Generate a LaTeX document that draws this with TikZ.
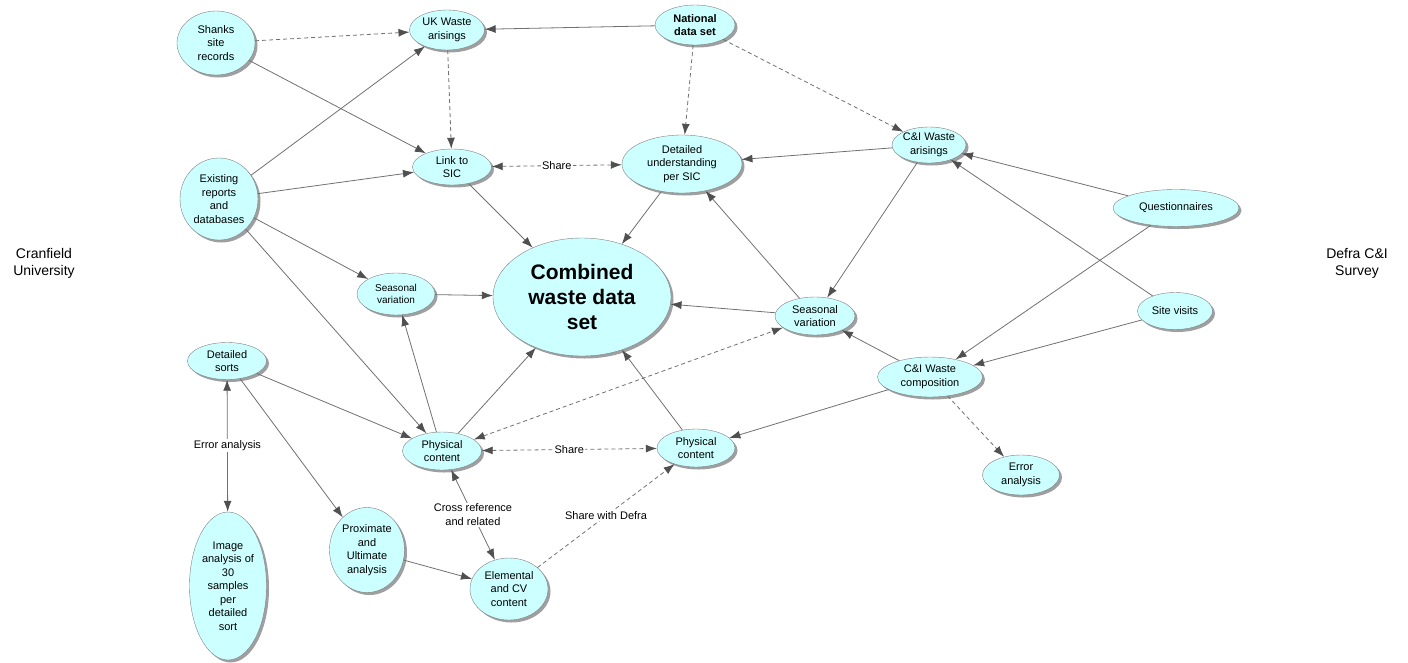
\documentclass[tikz,border=0pt]{standalone}
\usepackage{fontspec}
\setmainfont{Liberation Sans}
\usetikzlibrary{arrows.meta,shapes.geometric,shadows}
\definecolor{bubble}{HTML}{CCFFFF}
\definecolor{edgegray}{HTML}{707070}
\definecolor{tipgray}{HTML}{505050}

\begin{document}
\begin{tikzpicture}[x=1pt, y=-1pt,
  blob/.style={ellipse, draw=gray, fill=bubble, inner sep=0pt, align=center,
               font=\fontsize{11}{13.5}\selectfont,
               drop shadow={shadow xshift=2.5pt, shadow yshift=-2.5pt, fill=gray!75, opacity=1}},
  side/.style={font=\fontsize{14}{17}\selectfont, align=center},
  arr/.style={-{Latex[length=11pt, width=8pt, color=tipgray]}, draw=edgegray, line width=0.8pt},
  barr/.style={{Latex[length=11pt, width=8pt, color=tipgray]}-{Latex[length=11pt, width=8pt, color=tipgray]},
               draw=edgegray, line width=0.8pt},
  darr/.style={arr, dash pattern=on 4pt off 3pt},
  dbarr/.style={barr, dash pattern=on 4pt off 3pt},
  lbl/.style={fill=white, inner sep=1.5pt, font=\fontsize{11}{13.5}\selectfont, align=center}
]
\useasboundingbox (0,0) rectangle (1408,662);

% Cranfield side
\node[blob, minimum width=78pt, minimum height=64pt] (shanks) at (216,43) {Shanks\\site\\records};
\node[blob, minimum width=75pt, minimum height=40pt] (ukw) at (447,30) {UK Waste\\arisings};
\node[blob, minimum width=80pt, minimum height=40pt, font=\fontsize{11}{13.5}\selectfont\bfseries] (natds) at (695,25) {National\\data set};
\node[blob, minimum width=79pt, minimum height=36pt] (linksic) at (452,167) {Link to\\SIC};
\node[blob, minimum width=78pt, minimum height=82pt] (exist) at (219,199) {Existing\\reports\\and\\databases};
\node[blob, minimum width=120pt, minimum height=58pt] (detund) at (682,164) {Detailed\\understanding\\per SIC};
\node[blob, minimum width=178pt, minimum height=118pt, font=\fontsize{21}{25}\selectfont\bfseries] (comb) at (582,297) {Combined\\waste data\\set};
\node[blob, minimum width=78pt, minimum height=42pt, font=\fontsize{10}{12.5}\selectfont] (seasl) at (396,294) {Seasonal\\variation};
\node[blob, minimum width=79pt, minimum height=37pt] (dsorts) at (227,361) {Detailed\\sorts};
\node[blob, minimum width=79pt, minimum height=38pt] (physl) at (442,451) {Physical\\content};
\node[blob, minimum width=77pt, minimum height=148pt] (imgan) at (228,586) {Image\\analysis of\\30\\samples\\per\\detailed\\sort};
\node[blob, minimum width=75pt, minimum height=85pt] (prox) at (367,550) {Proximate\\and\\Ultimate\\analysis};
\node[blob, minimum width=78pt, minimum height=62pt] (elem) at (509,589) {Elemental\\and CV\\content};

% Defra side
\node[blob, minimum width=74pt, minimum height=36pt] (ciar) at (929,145) {C\&I Waste\\arisings};
\node[blob, minimum width=126pt, minimum height=37pt] (quest) at (1176,208) {Questionnaires};
\node[blob, minimum width=75pt, minimum height=37pt] (sitev) at (1175,311) {Site visits};
\node[blob, minimum width=80pt, minimum height=38pt] (seasr) at (815,316) {Seasonal\\variation};
\node[blob, minimum width=105pt, minimum height=40pt] (cicomp) at (930,377) {C\&I Waste\\composition};
\node[blob, minimum width=78pt, minimum height=38pt] (physr) at (696,448) {Physical\\content};
\node[blob, minimum width=77pt, minimum height=40pt] (errr) at (1021,475) {Error\\analysis};

\node[side] (cran) at (44,263) {Cranfield\\University};
\node[side] (defra) at (1357,263) {Defra C\&I\\Survey};

% connectors
\draw[arr] (natds) -- (ukw);
\draw[darr] (shanks) -- (ukw);
\draw[arr] (shanks) -- (linksic);
\draw[darr] (ukw) -- (linksic);
\draw[arr] (exist) -- (ukw);
\draw[arr] (exist) -- (linksic);
\draw[dbarr] (linksic) -- node[lbl] {Share} (detund);
\draw[darr] (natds) -- (detund);
\draw[darr] (natds) -- (ciar);
\draw[arr] (ciar) -- (detund);
\draw[arr] (linksic) -- (comb);
\draw[arr] (detund) -- (comb);
\draw[arr] (ciar) -- (seasr);
\draw[arr] (seasr) -- (detund);
\draw[arr] (seasr) -- (comb);
\draw[arr] (quest) -- (ciar);
\draw[arr] (sitev) -- (ciar);
\draw[arr] (quest) -- (cicomp);
\draw[arr] (sitev) -- (cicomp);
\draw[arr] (cicomp) -- (seasr);
\draw[arr] (cicomp) -- (physr);
\draw[darr] (cicomp) -- (errr);
\draw[arr] (exist) -- (seasl);
\draw[arr] (exist) -- (physl);
\draw[arr] (seasl) -- (comb);
\draw[arr] (physl) -- (seasl);
\draw[arr] (physl) -- (comb);
\draw[dbarr] (physl) -- (seasr);
\draw[dbarr] (physl) -- node[lbl] {Share} (physr);
\draw[arr] (physr) -- (comb);
\draw[arr] (dsorts) -- (physl);
\draw[barr] (dsorts) -- node[lbl] {Error analysis} (imgan);
\draw[arr] (dsorts) -- (prox);
\draw[arr] (prox) -- (elem);
\draw[barr] (physl) -- node[lbl] {Cross reference\\and related} (elem);
\draw[darr] (elem) -- node[lbl] {Share with Defra} (physr);
\end{tikzpicture}
\end{document}
